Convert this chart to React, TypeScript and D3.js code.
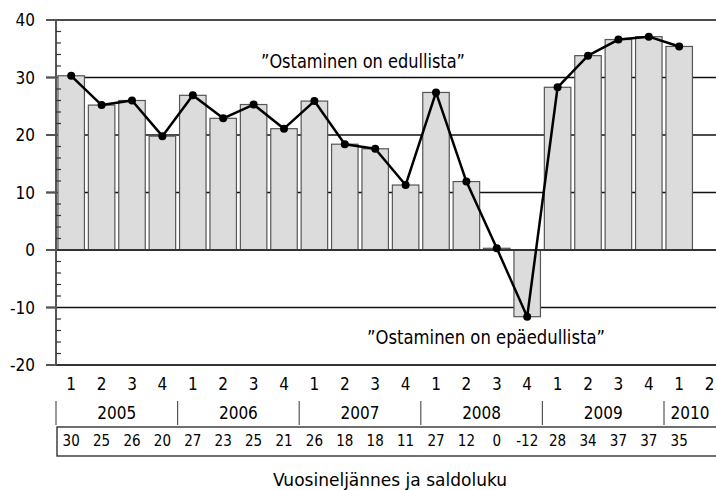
import React from "react";
import * as d3 from "d3";

const years = ["2005", "2006", "2007", "2008", "2009", "2010"];
const quarterLabels = ["1","2","3","4","1","2","3","4","1","2","3","4","1","2","3","4","1","2","3","4","1","2"];
const values: (number | null)[] = [30.3, 25.2, 26.0, 19.8, 26.9, 22.9, 25.3, 21.1, 25.9, 18.4, 17.6, 11.3, 27.4, 11.9, 0.3, -11.6, 28.3, 33.8, 36.6, 37.1, 35.4, null];
const valueLabels = ["30","25","26","20","27","23","25","21","26","18","18","11","27","12","0","-12","28","34","37","37","35",""];
const yTicks = [40, 30, 20, 10, 0, -10, -20];
const gridValues = [40, 30, 20, 10, -10];
const annotations = [
  { text: "\u201DOstaminen on edullista\u201D", x: 363, y: 68, len: 204 },
  { text: "\u201DOstaminen on ep\u00E4edullista\u201D", x: 486, y: 344, len: 238 },
];
const xTitle = "Vuosinelj\u00E4nnes ja saldoluku";

const W = 716, H = 490;
const FONT = "'Liberation Sans Narrow', 'DejaVu Sans Condensed', 'Arial Narrow', sans-serif";

export default function App() {
  const idx = quarterLabels.map((_, i) => String(i));
  const x = d3.scaleBand<string>().domain(idx).range([56, 56 + 22 * 30.4]).paddingInner(0.128).paddingOuter(0.064);
  const y = d3.scaleLinear().domain([-20, 40]).range([365, 20]);
  const step = x.step();
  const cx = (i: number) => (x(String(i)) as number) + x.bandwidth() / 2;
  const slotStart = (i: number) => 56 + i * step;

  const pts = values.map((v, i) => ({ v, i })).filter((d) => d.v !== null) as { v: number; i: number }[];
  const line = d3.line<{ v: number; i: number }>().x((d) => cx(d.i)).y((d) => y(d.v));
  const minor = d3.range(-20, 41, 2).filter((v) => v % 10 !== 0);

  return (
    <svg width={W} height={H} style={{ position: "absolute", left: 0, top: 0, background: "#fff" }} fontFamily={FONT}>
      {gridValues.map((g) => (
        <line key={g} x1={46} x2={W} y1={y(g)} y2={y(g)} stroke="#111" strokeWidth={1.3} />
      ))}
      {values.map((v, i) =>
        v === null ? null : (
          <rect key={i} x={x(String(i))} width={x.bandwidth()} y={y(Math.max(0, v))} height={Math.abs(y(v) - y(0))}
            fill="#dcdcdc" stroke="#555" strokeWidth={1.2} />
        )
      )}
      <line x1={46} x2={W} y1={y(0)} y2={y(0)} stroke="#333" strokeWidth={2} />
      <line x1={46} x2={W} y1={y(-20)} y2={y(-20)} stroke="#333" strokeWidth={2} />
      <line x1={56} x2={56} y1={y(40)} y2={y(-20)} stroke="#555" strokeWidth={2} />
      {minor.map((m) => (
        <line key={m} x1={56} x2={61} y1={y(m)} y2={y(m)} stroke="#333" strokeWidth={1.2} />
      ))}
      {yTicks.map((t) => (
        <g key={t}>
          <line x1={46} x2={56} y1={y(t)} y2={y(t)} stroke="#555" strokeWidth={2} />
          <text x={35} y={y(t)} dy="0.36em" textAnchor="end" fontSize={17} fill="#000">{t}</text>
        </g>
      ))}
      <path d={line(pts) || ""} fill="none" stroke="#000" strokeWidth={2.5} strokeLinejoin="round" />
      {pts.map((d) => (
        <circle key={d.i} cx={cx(d.i)} cy={y(d.v)} r={4} fill="#000" />
      ))}
      {annotations.map((a) => (
        <text key={a.text} x={a.x} y={a.y} textAnchor="middle" fontSize={20} fill="#000"
          textLength={a.len} lengthAdjust="spacingAndGlyphs">{a.text}</text>
      ))}
      {quarterLabels.map((q, i) => (
        <text key={i} x={cx(i)} y={390} textAnchor="middle" fontSize={17} fill="#000">{q}</text>
      ))}
      {years.map((yr, k) => {
        const s = slotStart(k * 4);
        const e = Math.min(slotStart(k * 4 + 4), W);
        return (
          <g key={yr}>
            <line x1={s} x2={s} y1={401} y2={425} stroke="#555" strokeWidth={1.2} />
            <text x={(s + e) / 2} y={419} textAnchor="middle" fontSize={17} fill="#000">{yr}</text>
          </g>
        );
      })}
      <rect x={57} y={427} width={W - 56} height={29} fill="none" stroke="#222" strokeWidth={1.3} />
      {valueLabels.map((t, i) => (
        <text key={i} x={cx(i)} y={446} textAnchor="middle" fontSize={15} fill="#000">{t}</text>
      ))}
      <text x={390} y={486} textAnchor="middle" fontSize={18} fill="#000"
        textLength={234} lengthAdjust="spacingAndGlyphs">{xTitle}</text>
    </svg>
  );
}
